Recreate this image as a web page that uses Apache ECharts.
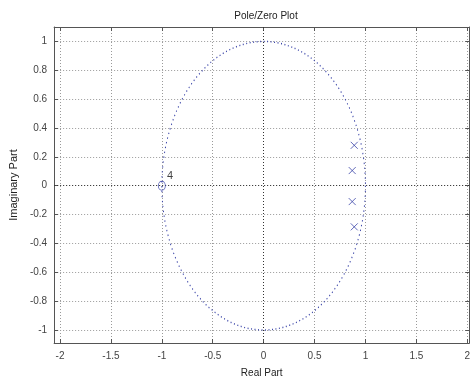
<!DOCTYPE html>
<html><head><meta charset="utf-8">
<script src="https://cdn.jsdelivr.net/npm/echarts@6/dist/echarts.min.js"></script>
<style>html,body{margin:0;padding:0;background:#fff}#c{width:473px;height:383px}</style>
</head><body><div id="c"></div>
<script>
// ---- data ----
const xTicks = [-2, -1.5, -1, -0.5, 0, 0.5, 1, 1.5, 2];
const yTicks = [-1, -0.8, -0.6, -0.4, -0.2, 0, 0.2, 0.4, 0.6, 0.8, 1];
const zeros = [[-1, 0]];
const zeroMultiplicity = ['4'];
const poles = [[0.89, 0.28], [0.87, 0.105], [0.87, -0.11], [0.89, -0.285]];
const unitCircle = [[0, 0, 1]]; // center x, center y, radius
const xRange = [-2.058, 2.02];
const yRange = [-1.09, 1.1];

const FONT = 'Liberation Sans';
const gridLine = {show: true, lineStyle: {color: '#9a9a9a', type: [1, 2], width: 1}};
const axisLine = {show: true, onZero: false, lineStyle: {color: '#555', width: 1}};
const tick = (vals) => ({show: true, inside: true, length: 4, customValues: vals, lineStyle: {color: '#555'}});
const blue = '#3a44a8';

const chart = echarts.init(document.getElementById('c'), null, {renderer: 'canvas'});
chart.setOption({
  animation: false,
  backgroundColor: '#fff',
  title: {text: 'Pole/Zero Plot', left: 261, top: 6, textAlign: 'center',
    textStyle: {fontFamily: FONT, fontSize: 10, fontWeight: 'normal', color: '#222'}},
  grid: {left: 48, right: 1, top: 27, bottom: 40, containLabel: false},
  xAxis: [{
    type: 'value', min: xRange[0], max: xRange[1], position: 'bottom',
    axisLine, axisTick: tick(xTicks), splitLine: gridLine,
    axisLabel: {customValues: xTicks, color: '#444', fontFamily: FONT, fontSize: 10, margin: 8},
    name: 'Real Part', nameLocation: 'middle', nameGap: 25,
    nameTextStyle: {fontFamily: FONT, fontSize: 10, color: '#222'}
  }, {
    type: 'value', min: xRange[0], max: xRange[1], position: 'top',
    axisLine, axisTick: tick(xTicks), splitLine: {show: false}, axisLabel: {show: false}
  }],
  yAxis: [{
    type: 'value', min: yRange[0], max: yRange[1], position: 'left',
    axisLine, axisTick: tick(yTicks), splitLine: gridLine,
    axisLabel: {customValues: yTicks, color: '#444', fontFamily: FONT, fontSize: 10, margin: 7},
    name: 'Imaginary Part', nameLocation: 'middle', nameGap: 26, nameRotate: 90,
    nameTextStyle: {fontFamily: FONT, fontSize: 11, color: '#222'}
  }, {
    type: 'value', min: yRange[0], max: yRange[1], position: 'right',
    axisLine, axisTick: tick(yTicks), splitLine: {show: false}, axisLabel: {show: false}
  }],
  series: [{
    type: 'custom',
    data: unitCircle,
    silent: true,
    renderItem: function (params, api) {
      const c = api.coord([api.value(0), api.value(1)]);
      const e = api.coord([api.value(0) + api.value(2), api.value(1) + api.value(2)]);
      const rx = e[0] - c[0], ry = c[1] - e[1];
      return {
        type: 'circle', x: c[0], y: c[1], scaleY: ry / rx,
        shape: {cx: 0, cy: 0, r: rx},
        style: {fill: null, stroke: blue, lineWidth: 1, lineDash: [1, 2.5], strokeNoScale: true}
      };
    },
    z: 3
  }, {
    type: 'scatter',
    data: zeros,
    symbol: 'circle', symbolSize: [7, 9],
    itemStyle: {color: 'rgba(255,255,255,0)', borderColor: blue, borderWidth: 1},
    label: {show: true, position: [9, -10], formatter: (p) => zeroMultiplicity[p.dataIndex],
      fontFamily: FONT, fontSize: 11, color: '#111'},
    markLine: {
      silent: true, symbol: 'none', label: {show: false},
      lineStyle: {color: '#333', type: [1, 2], width: 1},
      data: [{yAxis: 0}, {xAxis: 0}]
    },
    z: 5
  }, {
    type: 'scatter',
    data: poles,
    symbol: 'path://M0,0L10,10M10,0L0,10', symbolSize: 7,
    itemStyle: {color: 'none', borderColor: blue, borderWidth: 1},
    z: 5
  }]
});
</script></body></html>
